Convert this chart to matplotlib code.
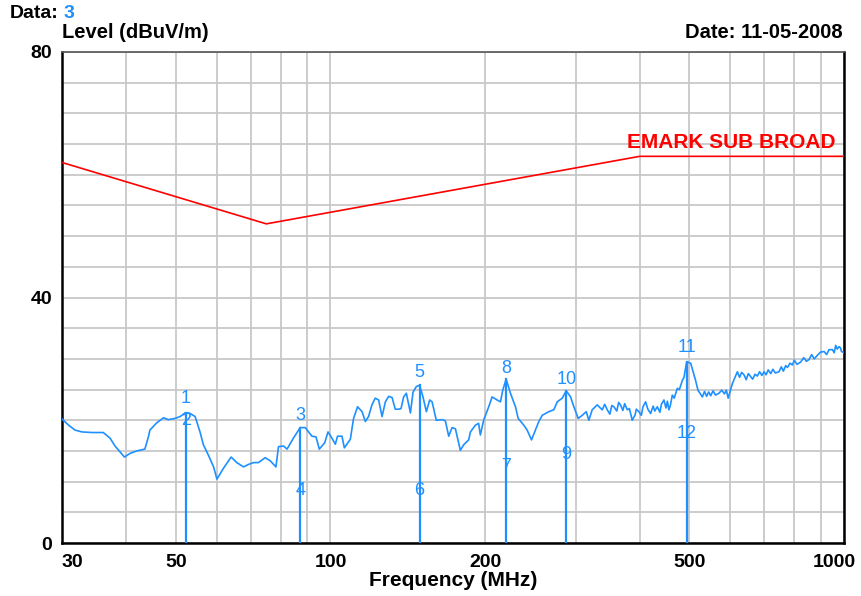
import matplotlib
matplotlib.use("Agg")
import matplotlib.pyplot as plt
import matplotlib.transforms as mtransforms

plt.rcParams['font.family'] = ['Liberation Sans', 'DejaVu Sans']

# ---- data ---- #
trace_freq = [30.0, 30.9, 31.8, 32.8, 34.3, 36.1, 37.2, 38.05, 39.7, 40.7,
              41.95, 43.5, 44.2, 44.5, 45.9, 47.3, 48.3, 49.8, 50.95, 52.1,
              53.3, 54.5, 55.7, 56.55, 57.85, 59.2, 60.1, 61.9, 64.05, 65.7,
              67.7, 69.2, 70.8, 72.4, 74.6, 76.3, 78.3, 79.2, 81.0, 82.3,
              84.7, 87.3, 89.3, 92.0, 93.7, 95.1, 97.4, 98.9, 100.6, 102.2,
              103.2, 105.3, 106.4, 109.3, 110.9, 112.9, 115.2, 116.9, 118.6, 120.4,
              122.2, 124.1, 126.0, 127.9, 129.8, 131.8, 133.7, 135.7, 137.2, 138.8,
              140.5, 143.1, 144.8, 147.0, 149.1, 151.4, 153.7, 156.0, 157.7, 160.7,
              164.9, 167.4, 169.9, 172.5, 175.1, 179.0, 181.7, 185.8, 187.3, 191.5,
              194.3, 195.8, 198.7, 203.3, 206.4, 211.1, 214.3, 216.5, 219.8, 224.1,
              229.2, 232.0, 237.9, 241.5, 246.3, 250.7, 254.5, 258.4, 266.2, 272.2,
              276.4, 282.7, 287.8, 293.4, 297.8, 303.7, 309.2, 314.8, 318.5, 323.3,
              330.7, 338.2, 342, 345.9, 350, 353, 356.3, 361, 364, 367.1,
              371, 374, 378.4, 382, 386.9, 392, 394, 398.6, 403, 406,
              410.8, 415, 420.1, 425, 428, 433.0, 438, 441, 446.0, 450,
              453, 456.0, 459, 463.1, 467, 473.6, 478, 484.4, 488, 493.8,
              502.8, 514.0, 519.5, 529.9, 535, 540, 545, 550, 556, 562,
              570.8, 578, 585, 590, 595, 606.3, 620, 626, 632, 638.7,
              645, 651, 658, 664, 671, 678, 685, 692, 698.6, 705,
              712, 720, 727, 735, 747, 755, 762, 770, 776, 785,
              793.6, 800, 810, 823.7, 835, 845, 855, 865, 875, 887.9,
              900, 914.5, 925, 935, 949.7, 957, 963.6, 970, 978.1, 984,
              988.8, 1000]
trace_level = [20.2, 19.2, 18.4, 18.1, 18.0, 18.0, 17.1, 15.8, 14.0, 14.6,
               15.0, 15.3, 17.3, 18.4, 19.6, 20.4, 20.1, 20.3, 20.6, 21.2,
               21.1, 20.6, 18.1, 16.0, 14.3, 12.4, 10.4, 12.2, 14.0, 13.1,
               12.4, 12.8, 13.1, 13.1, 13.9, 13.4, 12.4, 15.7, 15.8, 15.3,
               17.1, 18.8, 18.8, 17.4, 17.3, 15.3, 16.3, 18.1, 17.1, 16.1,
               17.4, 17.4, 15.5, 16.9, 20.3, 22.2, 21.4, 19.8, 20.6, 22.5,
               23.6, 23.3, 20.6, 23.0, 23.9, 23.7, 21.8, 21.8, 21.9, 23.8,
               24.4, 21.2, 24.6, 25.5, 25.7, 23.8, 21.4, 23.3, 23.0, 20.0,
               20.1, 19.9, 17.4, 18.8, 18.6, 15.1, 16.0, 16.8, 18.1, 19.2,
               19.5, 17.6, 20.0, 22.2, 23.8, 23.3, 23.0, 24.9, 26.7, 24.4,
               22.2, 20.3, 19.2, 18.4, 16.8, 18.4, 19.8, 20.8, 21.4, 21.7,
               23.0, 23.6, 24.8, 23.8, 22.2, 20.3, 20.8, 21.4, 20.0, 21.7,
               22.5, 21.7, 22.6, 21.7, 21.0, 22.4, 22.2, 21.5, 22.9, 22.5,
               21.6, 22.7, 21.7, 21.9, 20.0, 20.9, 21.8, 21.4, 20.8, 22.2,
               23.0, 21.8, 21.1, 22.3, 21.5, 22.2, 21.3, 22.6, 23.3, 22.0,
               23.1, 21.7, 22.4, 24.1, 23.6, 25.2, 25.0, 26.5, 27.0, 29.5,
               29.3, 26.5, 24.9, 23.8, 24.7, 23.9, 24.6, 24.0, 24.8, 24.1,
               24.4, 24.9, 24.3, 24.9, 23.6, 26.0, 27.9, 27.0, 27.8, 27.4,
               26.6, 27.6, 27.1, 26.7, 27.5, 27.2, 27.9, 27.3, 27.9, 27.4,
               28.2, 27.6, 28.3, 27.7, 27.9, 28.7, 28.0, 28.9, 28.6, 29.3,
               29.0, 29.8, 29.1, 29.5, 30.2, 29.6, 29.9, 30.7, 30.0, 30.6,
               31.1, 31.2, 30.7, 31.5, 31.5, 31.0, 32.2, 31.6, 32.0, 31.8,
               31.2, 31.0]

limit_freq = [30, 75, 400, 1000]
limit_level = [62, 52, 63, 63]
limit_name = "EMARK SUB BROAD"

marker_freq = [52.3, 87.3, 149.1, 219.8, 287.8, 493.8]
marker_level = [21.2, 18.8, 25.7, 26.7, 24.8, 29.5]
peak_labels = ["1", "3", "5", "8", "10", "11"]
peak_label_level = [23.5, 20.7, 27.7, 28.5, 26.7, 31.8]
low_labels = ["2", "4", "6", "7", "9", "12"]
low_label_level = [19.9, 8.6, 8.6, 12.4, 14.5, 17.9]

xtick_values = [30, 50, 100, 200, 500, 1000]
xgrid_minor = [40, 60, 70, 80, 90, 300, 400, 600, 700, 800, 900]
ytick_values = [0, 40, 80]

blue = '#1E90FF'

# ---- figure ---- #
fig = plt.figure(figsize=(8.61, 5.96), dpi=100)
ax = fig.add_axes([62 / 861, 53 / 596, 782 / 861, 491 / 596])

ax.set_xscale('log')
ax.set_xlim(30, 1000)
ax.set_ylim(0, 80)

ax.set_xticks(xtick_values)
ax.set_xticks(xgrid_minor, minor=True)
ax.set_xticklabels([str(v) for v in xtick_values])
ax.set_yticks(ytick_values)
ax.set_yticks(range(0, 81, 5), minor=True)
ax.tick_params(which='both', length=0)
ax.tick_params(axis='x', pad=8, labelsize=14)
ax.tick_params(axis='y', pad=7, labelsize=14)
for lab in ax.get_xticklabels() + ax.get_yticklabels():
    lab.set_fontweight('bold')
xl = ax.get_xticklabels()
xl[0].set_horizontalalignment('left')
xl[-1].set_transform(xl[-1].get_transform() + mtransforms.ScaledTranslation(-0.1, 0, fig.dpi_scale_trans))

ax.grid(True, which='both', color='#c8c8c8', linewidth=1.3)
ax.set_axisbelow(True)
for side in ['left', 'bottom', 'right']:
    ax.spines[side].set_color('black')
    ax.spines[side].set_linewidth(1.8)
ax.spines['top'].set_color('#555555')
ax.spines['top'].set_linewidth(1.2)

# limit line
ax.plot(limit_freq, limit_level, color='red', linewidth=1.2, zorder=3)
ax.text(963, 65.2, limit_name, color='red', fontsize=15, fontweight='bold',
        ha='right', va='center', zorder=4)

# measured trace
ax.plot(trace_freq, trace_level, color=blue, linewidth=1.2, zorder=4)

# markers
for f, lvl, t1, y1, t2, y2 in zip(marker_freq, marker_level, peak_labels,
                                  peak_label_level, low_labels, low_label_level):
    ax.plot([f, f], [0, lvl], color=blue, linewidth=1.6, zorder=5)
    ax.text(f, y1, t1, color=blue, fontsize=13, ha='center', va='center', zorder=6)
    ax.text(f, y2, t2, color=blue, fontsize=13, ha='center', va='center', zorder=6)

# header and axis titles
fig.text(10 / 861, 1 - 13 / 596, "Data:", fontsize=14, fontweight='bold',
         ha='left', va='center')
fig.text(64 / 861, 1 - 13 / 596, "3", fontsize=14, fontweight='bold',
         color=blue, ha='left', va='center')
fig.text(62 / 861, 1 - 32 / 596, "Level (dBuV/m)", fontsize=14.5, fontweight='bold',
         ha='left', va='center')
fig.text(843 / 861, 1 - 32 / 596, "Date: 11-05-2008", fontsize=14.5, fontweight='bold',
         ha='right', va='center')
fig.text(453 / 861, 1 - 580 / 596, "Frequency (MHz)", fontsize=15, fontweight='bold',
         ha='center', va='center')

fig.savefig('out.png', dpi=100)
